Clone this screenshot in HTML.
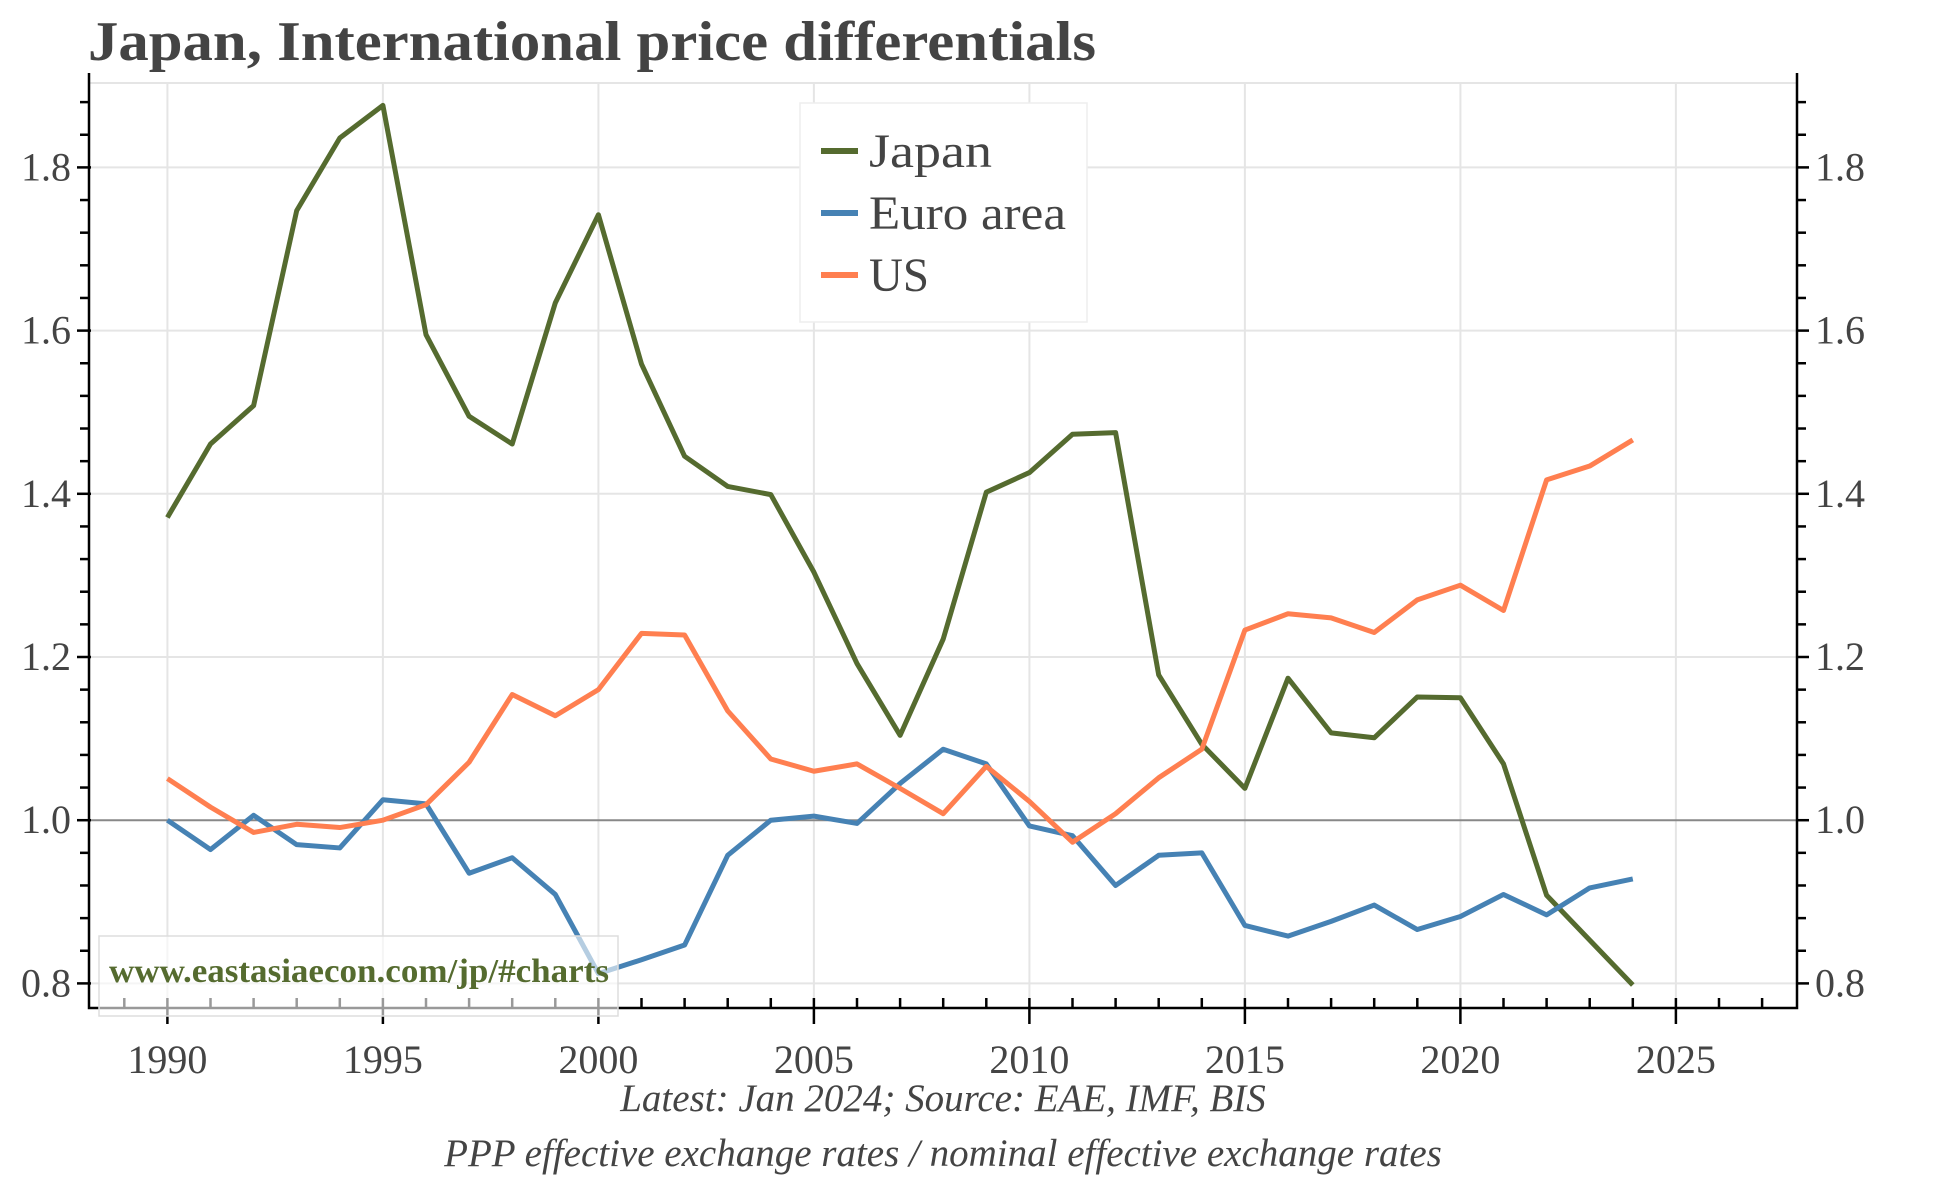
<!DOCTYPE html>
<html><head><meta charset="utf-8"><style>
html,body{margin:0;padding:0;background:#fff;}
svg{display:block;}
</style></head><body>
<svg id="chart" width="1944" height="1178" viewBox="0 0 1944 1178" xmlns="http://www.w3.org/2000/svg" font-family="'Liberation Serif', serif">
<text x="88" y="60" font-size="56" font-weight="bold" fill="#444" textLength="1008" lengthAdjust="spacingAndGlyphs">Japan, International price differentials</text>
<g id="grid"></g>
<g id="series"></g>
<g id="axes"></g>
<g>
<rect x="800" y="103" width="287" height="219" fill="#fff" stroke="#eee" stroke-width="1.5"/>
<g><line x1="821" y1="151" x2="858" y2="151" stroke="#556b2f" stroke-width="6"/><text x="869" y="167" font-size="48" fill="#444" textLength="123" lengthAdjust="spacingAndGlyphs">Japan</text></g>
<g><line x1="821" y1="213" x2="858" y2="213" stroke="#4682b4" stroke-width="6"/><text x="869" y="229" font-size="48" fill="#444" textLength="197" lengthAdjust="spacingAndGlyphs">Euro area</text></g>
<g><line x1="821" y1="275" x2="858" y2="275" stroke="#ff7f50" stroke-width="6"/><text x="869" y="291" font-size="48" fill="#444" textLength="60" lengthAdjust="spacingAndGlyphs">US</text></g>
</g>
<g>
<rect x="99" y="936" width="519" height="80" fill="#fff" fill-opacity="0.6" stroke="#ddd" stroke-width="1.5"/>
<text x="109" y="982" font-size="34" font-weight="bold" fill="#556b2f" textLength="500" lengthAdjust="spacingAndGlyphs">www.eastasiaecon.com/jp/#charts</text>
</g>
<text x="943" y="1111" text-anchor="middle" font-size="39" font-style="italic" fill="#444">Latest: Jan 2024; Source: EAE, IMF, BIS</text>
<text x="943" y="1166" text-anchor="middle" font-size="39" font-style="italic" fill="#444">PPP effective exchange rates / nominal effective exchange rates</text>
</svg>
<script>
const years = [1990,1991,1992,1993,1994,1995,1996,1997,1998,1999,2000,2001,2002,2003,2004,2005,2006,2007,2008,2009,2010,2011,2012,2013,2014,2015,2016,2017,2018,2019,2020,2021,2022,2023,2024];
const japan = [1.371,1.461,1.508,1.747,1.836,1.876,1.595,1.495,1.461,1.634,1.742,1.559,1.446,1.409,1.399,1.304,1.192,1.104,1.222,1.402,1.426,1.473,1.475,1.178,1.093,1.039,1.174,1.107,1.101,1.151,1.150,1.069,0.908,0.853,0.798];
const euro = [1.0,0.964,1.006,0.970,0.966,1.025,1.020,0.935,0.954,0.909,0.812,0.829,0.847,0.957,1.0,1.005,0.996,1.045,1.087,1.069,0.993,0.981,0.920,0.957,0.960,0.871,0.858,0.876,0.896,0.866,0.882,0.909,0.884,0.917,0.928];
const us = [1.051,1.016,0.985,0.995,0.991,1.0,1.019,1.071,1.154,1.128,1.160,1.229,1.227,1.134,1.075,1.060,1.069,1.039,1.008,1.066,1.023,0.973,1.008,1.052,1.087,1.233,1.253,1.248,1.230,1.270,1.288,1.257,1.417,1.434,1.466];
const xTicks = [1990,1995,2000,2005,2010,2015,2020,2025];
const yTicks = ["0.8","1.0","1.2","1.4","1.6","1.8"];

const NS="http://www.w3.org/2000/svg";
const L=89,R=1797,T=83,B=1008;
const x=v=>167.4+(v-1990)*43.1;
const y=v=>167.4+(1.8-v)*816;
function mk(tag,attrs,parent){const e=document.createElementNS(NS,tag);for(const k in attrs)e.setAttribute(k,attrs[k]);parent.appendChild(e);return e;}
const grid=document.getElementById('grid'),axes=document.getElementById('axes'),ser=document.getElementById('series');
xTicks.forEach(t=>{const g=mk('line',{x1:x(t),x2:x(t),y1:T,y2:B,stroke:'#e5e5e5','stroke-width':2},grid);

});
yTicks.forEach(t=>{const v=parseFloat(t);const g=mk('line',{x1:L,x2:R,y1:y(v),y2:y(v),stroke:v===1?'#888':'#e5e5e5','stroke-width':2},grid);

});
mk('line',{x1:L,x2:R,y1:T,y2:T,stroke:'#e5e5e5','stroke-width':2},grid);
[[japan,'#556b2f','japan'],[euro,'#4682b4','euro-area'],[us,'#ff7f50','us']].forEach(([d,c,n])=>{
const p=mk('polyline',{points:d.map((v,i)=>x(years[i])+','+y(v)).join(' '),fill:'none',stroke:c,'stroke-width':5,'stroke-linejoin':'round'},ser);

});
mk('polyline',{points:`${L},${T-10} ${L},${B} ${R},${B} ${R},${T-10}`,fill:'none',stroke:'#000','stroke-width':2.5},axes);
for(let yr=1989;yr<=2027;yr++){const maj=yr%5===0;mk('line',{x1:x(yr),x2:x(yr),y1:B-10,y2:maj?B+16:B,stroke:'#000','stroke-width':2.5},axes);}
xTicks.forEach(t=>{const e=mk('text',{x:x(t),y:1073,'text-anchor':'middle','font-size':40,fill:'#444'},axes);e.textContent=t;

});
for(let k=0;k<=27;k++){const v=0.8+k*0.04;const yy=y(v);if(yy<T)break;const maj=k%5===0;
mk('line',{x1:L-(maj?12:9),x2:L+(maj?2:0),y1:yy,y2:yy,stroke:'#000','stroke-width':2.5},axes);
mk('line',{x1:R+(maj?12:9),x2:R,y1:yy,y2:yy,stroke:'#000','stroke-width':2.5},axes);}
yTicks.forEach(t=>{const v=parseFloat(t);
const a=mk('text',{x:L-18,y:y(v)+13,'text-anchor':'end','font-size':40,fill:'#444'},axes);a.textContent=t;


const b=mk('text',{x:R+18,y:y(v)+13,'font-size':40,fill:'#444'},axes);b.textContent=t;

});
</script>
</body></html>
